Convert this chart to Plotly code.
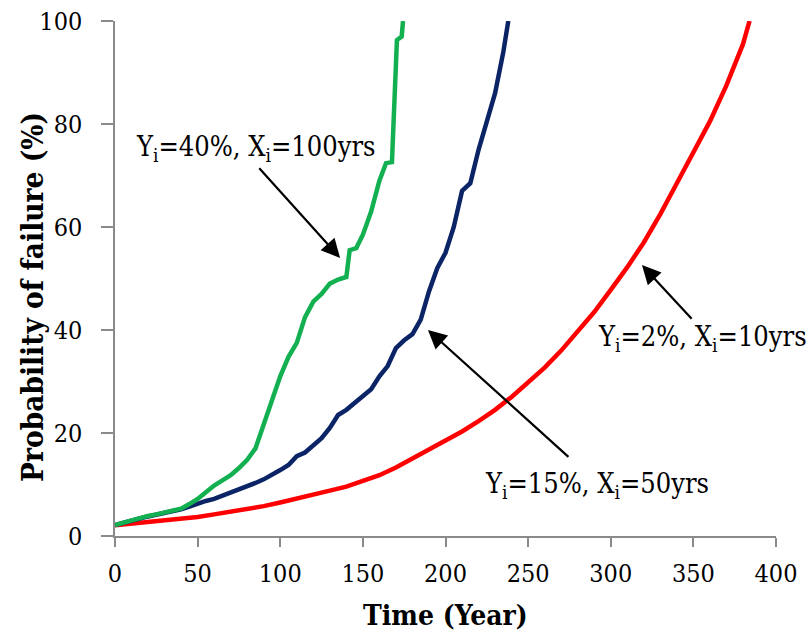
import plotly.graph_objects as go

# Red: Yi=2%, Xi=10yrs
red_x = [0, 10, 20, 30, 40, 50, 60, 70, 80, 90, 100, 110, 120, 130, 140, 150, 160, 170, 180, 190,
         200, 210, 220, 230, 240, 250, 260, 270, 280, 290, 300, 310, 320, 330, 340, 350, 360, 370, 380, 384]
red_y = [2.1, 2.4, 2.7, 3.0, 3.4, 3.7, 4.2, 4.7, 5.2, 5.8, 6.5, 7.2, 8.0, 8.8, 9.6, 10.6, 11.8, 13.3, 15.0, 16.7,
         18.5, 20.3, 22.3, 24.5, 27.0, 29.8, 32.7, 36.0, 39.6, 43.5, 47.8, 52.2, 57.0, 62.5, 68.5, 74.5, 80.5, 87.5, 95.5, 100]

# Blue: Yi=15%, Xi=50yrs
blue_x = [0, 5, 10, 15, 20, 25, 30, 35, 40, 45, 50, 55, 60, 65, 70, 75, 80, 85, 90, 95,
          100, 105, 110, 115, 120, 125, 130, 135, 140, 145, 150, 155, 160, 165, 170, 175, 180, 185, 190, 195,
          200, 205, 210, 215, 220, 225, 230, 235, 238]
blue_y = [2.1, 2.6, 3.0, 3.4, 3.8, 4.1, 4.5, 4.8, 5.2, 5.7, 6.3, 6.8, 7.2, 7.8, 8.3, 9.0, 9.7, 10.3, 11.0, 11.8,
          12.8, 13.8, 15.5, 16.2, 17.5, 19.0, 21.0, 23.5, 24.5, 25.8, 27.0, 28.5, 31.0, 33.0, 36.5, 38.0, 39.2, 42.0, 47.5, 52.0,
          55.0, 60.0, 67.0, 68.5, 75.0, 80.8, 86.0, 94.0, 100]

# Green: Yi=40%, Xi=100yrs
green_x = [0, 5, 10, 15, 20, 25, 30, 35, 40, 45, 50, 55, 60, 65, 70, 75, 80, 85, 90, 95,
           100, 105, 110, 115, 120, 125, 130, 135, 140, 142, 146, 150, 155, 160, 164, 167.6, 170.6, 173.5, 174.3]
green_y = [2.1, 2.6, 3.0, 3.4, 3.9, 4.2, 4.5, 4.8, 5.3, 6.2, 7.2, 8.5, 9.8, 10.8, 11.8, 13.2, 14.8, 17.0, 21.5, 26.5,
           31.0, 34.8, 37.5, 42.5, 45.5, 47.0, 49.0, 49.8, 50.3, 55.5, 55.9, 58.5, 63.0, 69.0, 72.4, 72.6, 96.3, 97.0, 100]

x_ticks = [0, 50, 100, 150, 200, 250, 300, 350, 400]
y_ticks = [0, 20, 40, 60, 80, 100]

FONT = "DejaVu Serif Condensed, DejaVu Serif"
AXC = "#8a8a8a"

fig = go.Figure()
fig.add_trace(go.Scatter(x=red_x, y=red_y, mode="lines", line=dict(color="#ff0000", width=4.5), showlegend=False))
fig.add_trace(go.Scatter(x=blue_x, y=blue_y, mode="lines", line=dict(color="#0a2466", width=4.5), showlegend=False))
fig.add_trace(go.Scatter(x=green_x, y=green_y, mode="lines", line=dict(color="#12b050", width=4.5), showlegend=False))

anns = []
for (hx, hy, tx, ty) in [(136.2, 54.0, 86.5, 71.7), (318.9, 52.6, 349.8, 41.9), (189.4, 40.0, 275.3, 15.1)]:
    anns.append(dict(x=hx, y=hy, ax=tx, ay=ty, xref="x", yref="y", axref="x", ayref="y", text="",
                     showarrow=True, arrowhead=2, arrowsize=1.7, arrowwidth=2.2, arrowcolor="black", standoff=0))
for (tx, ty, txt) in [(85.3, 75.3, "Y<sub>i</sub>=40%, X<sub>i</sub>=100yrs"),
                      (355.8, 38.4, "Y<sub>i</sub>=2%, X<sub>i</sub>=10yrs"),
                      (291.4, 9.9, "Y<sub>i</sub>=15%, X<sub>i</sub>=50yrs")]:
    anns.append(dict(x=tx, y=ty, xref="x", yref="y", text=txt, showarrow=False,
                     xanchor="center", yanchor="middle", font=dict(family=FONT, size=27, color="black")))
anns.append(dict(x=-0.1256, y=0.464, xref="paper", yref="paper", text="<b>Probability of failure (%)</b>",
                 textangle=-90, showarrow=False, xanchor="center", yanchor="middle",
                 font=dict(family=FONT, size=29.5, color="black")))
anns.append(dict(x=0.5, y=-0.1534, xref="paper", yref="paper", text="<b>Time (Year)</b>",
                 showarrow=False, xanchor="center", yanchor="middle",
                 font=dict(family=FONT, size=28, color="black")))

fig.update_layout(
    width=810, height=635,
    margin=dict(l=115, r=34, t=21, b=99, autoexpand=False),
    paper_bgcolor="white", plot_bgcolor="white",
    annotations=anns,
)
fig.update_xaxes(range=[0, 400], tickvals=x_ticks, ticktext=[str(v) for v in x_ticks], automargin=False,
                 showgrid=False, zeroline=False, showline=True, linecolor=AXC, linewidth=1.5,
                 ticks="outside", ticklen=9, tickcolor=AXC, tickwidth=1.5,
                 tickfont=dict(family=FONT, size=25, color="black"), ticklabelstandoff=5)
fig.update_yaxes(range=[0, 100], tickvals=y_ticks, ticktext=[str(v) for v in y_ticks], automargin=False,
                 showgrid=False, zeroline=False, showline=True, linecolor=AXC, linewidth=1.5,
                 ticks="outside", ticklen=12, tickcolor=AXC, tickwidth=1.5,
                 tickfont=dict(family=FONT, size=25, color="black"), ticklabelstandoff=14)

fig.write_html("out.html")
